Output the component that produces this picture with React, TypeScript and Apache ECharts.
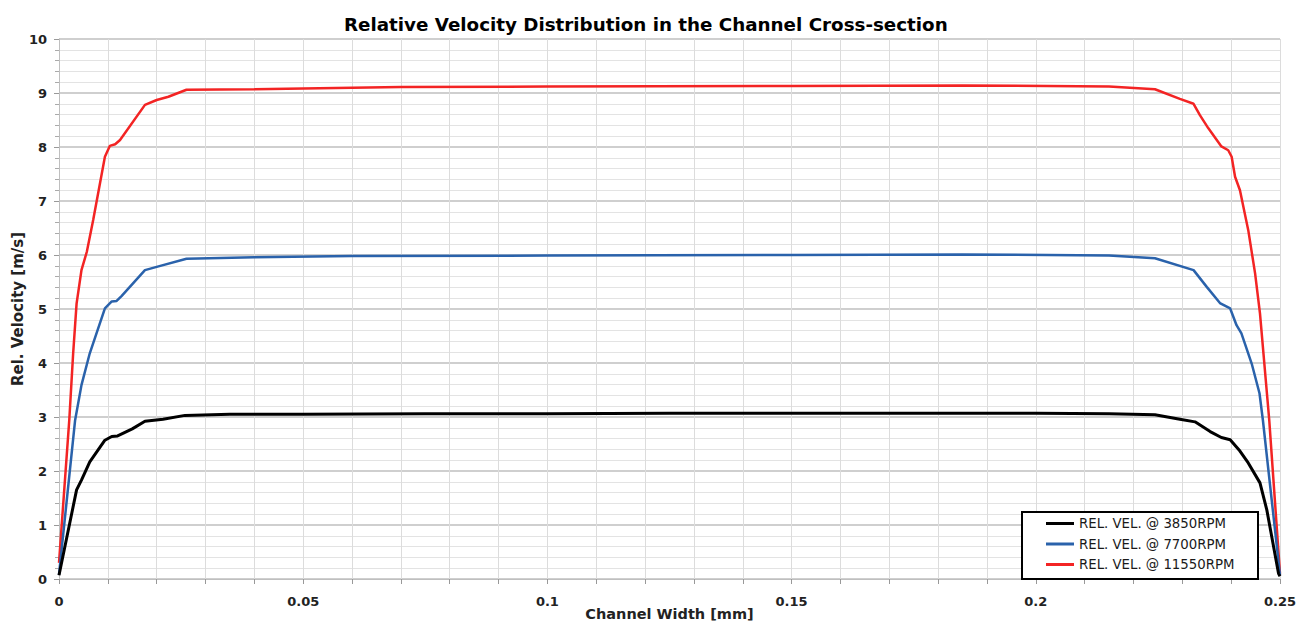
import React, { useEffect, useRef } from "react";
import * as echarts from "echarts";

const titleText = "Relative Velocity Distribution in the Channel Cross-section";
const xAxisName = "Channel Width [mm]";
const yAxisName = "Rel. Velocity [m/s]";
const seriesNames = ["REL. VEL. @ 3850RPM", "REL. VEL. @ 7700RPM", "REL. VEL. @ 11550RPM"];

const width3850 = [0, 0.0036, 0.0046, 0.0063, 0.0094, 0.0108, 0.012, 0.015, 0.0176, 0.0213, 0.0258, 0.035, 0.05, 0.075, 0.1, 0.125, 0.15, 0.175, 0.2, 0.215, 0.2244, 0.2295, 0.2326, 0.2357, 0.238, 0.2398, 0.2418, 0.2435, 0.2459, 0.2473, 0.2497, 0.25];
const vel3850 = [0.07, 1.65, 1.83, 2.17, 2.57, 2.64, 2.65, 2.78, 2.92, 2.96, 3.03, 3.05, 3.05, 3.06, 3.06, 3.07, 3.07, 3.07, 3.07, 3.06, 3.04, 2.96, 2.91, 2.73, 2.62, 2.58, 2.37, 2.15, 1.78, 1.28, 0.1, 0.05];

const width7700 = [0, 0.0033, 0.0046, 0.0063, 0.0094, 0.0108, 0.0118, 0.0128, 0.0176, 0.02, 0.0261, 0.04, 0.06, 0.1, 0.15, 0.185, 0.215, 0.2244, 0.2323, 0.235, 0.2377, 0.2398, 0.2411, 0.2421, 0.2442, 0.2458, 0.2465, 0.25];
const vel7700 = [0.08, 2.94, 3.59, 4.18, 5.01, 5.14, 5.15, 5.24, 5.72, 5.78, 5.93, 5.96, 5.98, 5.99, 6.0, 6.01, 5.99, 5.94, 5.72, 5.41, 5.11, 5.01, 4.7, 4.55, 3.99, 3.44, 2.94, 0.07];

const width11550 = [0, 0.0021, 0.0029, 0.0036, 0.0046, 0.0057, 0.007, 0.0094, 0.0104, 0.0115, 0.0125, 0.0176, 0.02, 0.0224, 0.0261, 0.04, 0.07, 0.1, 0.15, 0.185, 0.215, 0.2244, 0.2295, 0.2323, 0.2336, 0.2353, 0.238, 0.2394, 0.2401, 0.2408, 0.2418, 0.2435, 0.2449, 0.2459, 0.2478, 0.25];
const vel11550 = [0.3, 2.94, 4.18, 5.1, 5.72, 6.06, 6.65, 7.82, 8.02, 8.05, 8.13, 8.78, 8.87, 8.93, 9.06, 9.07, 9.11, 9.12, 9.13, 9.14, 9.12, 9.07, 8.89, 8.8, 8.59, 8.35, 8.01, 7.94, 7.82, 7.45, 7.2, 6.46, 5.66, 4.92, 2.94, 0.1];

const zip = (xs: number[], ys: number[]) => xs.map((x, i) => [x, ys[i]]);

export default function App() {
  const ref = useRef<HTMLDivElement>(null);
  useEffect(() => {
    if (!ref.current) return;
    const chart = echarts.init(ref.current, undefined, { renderer: "svg" });
    const font = "DejaVu Sans";
    chart.setOption({
      animation: false,
      backgroundColor: "#ffffff",
      title: {
        text: titleText,
        left: 339,
        top: 10,
        textStyle: { fontFamily: font, fontWeight: "bold", fontSize: 18.3, color: "#000" },
      },
      grid: { left: 59, right: 26, top: 39, bottom: 47, containLabel: false, outerBoundsMode: "none" },
      graphic: [
        {
          type: "rect",
          z: 50,
          shape: { x: 1022, y: 512, width: 236, height: 67 },
          style: { fill: "#fff", stroke: "#000", lineWidth: 2 },
        },
      ],
      legend: {
        orient: "vertical",
        left: 1022,
        top: 512,
        z: 60,
        padding: [5, 5, 5, 24],
        itemGap: 7.5,
        itemWidth: 28,
        itemHeight: 14,
        icon: "path://M0,0h28v3h-28z",
        borderWidth: 0,
        textStyle: { fontFamily: font, fontSize: 13.3, color: "#1a1a1a" },
        data: seriesNames,
      },
      xAxis: {
        type: "value",
        min: 0,
        max: 0.25,
        interval: 0.01,
        name: xAxisName,
        nameLocation: "middle",
        nameGap: 27,
        nameMoveOverlap: false,
        nameTextStyle: { fontFamily: font, fontWeight: "bold", fontSize: 14.5, color: "#222" },
        axisLine: { show: true, lineStyle: { color: "#bfbfbf", width: 1 } },
        axisTick: { show: true, length: 5, lineStyle: { color: "#999" } },
        axisLabel: {
          margin: 16,
          fontFamily: font,
          fontWeight: "bold",
          fontSize: 13,
          color: "#222",
          showMinLabel: true,
          showMaxLabel: true,
          formatter: (v: number) => {
            const r = v / 0.05;
            return Math.abs(r - Math.round(r)) < 1e-6 ? String(+v.toFixed(2)) : "";
          },
        },
        splitLine: { show: true, lineStyle: { color: "#dcdcdc", width: 1 } },
      },
      yAxis: {
        type: "value",
        min: 0,
        max: 10,
        interval: 1,
        name: yAxisName,
        nameLocation: "middle",
        nameGap: 34,
        nameMoveOverlap: false,
        nameTextStyle: { fontFamily: font, fontWeight: "bold", fontSize: 15, color: "#222" },
        axisLine: { show: true, lineStyle: { color: "#bfbfbf", width: 1 } },
        axisTick: { show: true, length: 5, lineStyle: { color: "#999" } },
        minorTick: { show: true, splitNumber: 5, length: 4, lineStyle: { color: "#aaa" } },
        axisLabel: { margin: 12, fontFamily: font, fontWeight: "bold", fontSize: 13, color: "#222" },
        splitLine: { show: true, lineStyle: { color: "#bfbfbf", width: 1.5 } },
        minorSplitLine: { show: true, lineStyle: { color: "#e3e3e3", width: 1 } },
      },
      series: [
        { name: seriesNames[0], type: "line", data: zip(width3850, vel3850), symbol: "none", lineStyle: { color: "#000", width: 3 }, itemStyle: { color: "#000" }, z: 4 },
        { name: seriesNames[1], type: "line", data: zip(width7700, vel7700), symbol: "none", lineStyle: { color: "#2a62ab", width: 2.5 }, itemStyle: { color: "#2a62ab" }, z: 3 },
        { name: seriesNames[2], type: "line", data: zip(width11550, vel11550), symbol: "none", lineStyle: { color: "#f32424", width: 2.5 }, itemStyle: { color: "#f32424" }, z: 2 },
      ],
    });
    return () => chart.dispose();
  }, []);
  return <div ref={ref} style={{ position: "fixed", left: 0, top: 0, width: 1306, height: 626 }} />;
}
